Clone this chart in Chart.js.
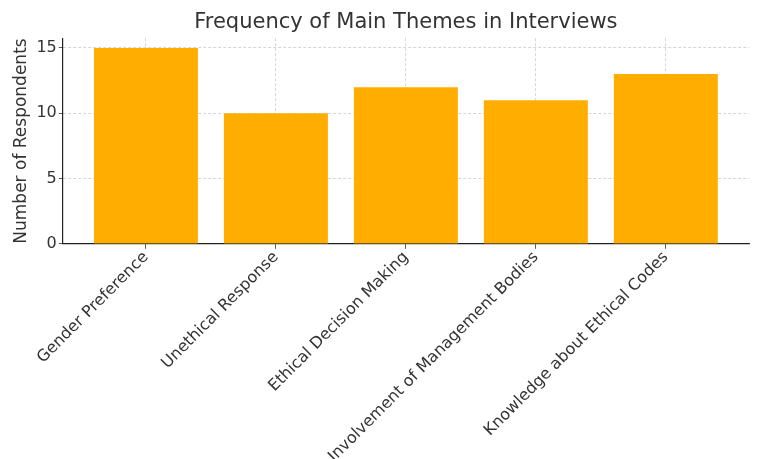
<!DOCTYPE html>
<html><head><meta charset="utf-8">
<script src="https://cdn.jsdelivr.net/npm/chart.js@4"></script>
<style>html,body{margin:0;padding:0;background:#fff}#w{width:757px;height:459px}</style>
</head><body><div id="w"><canvas id="c"></canvas></div>
<script>
const categories = ["Gender Preference","Unethical Response","Ethical Decision Making","Involvement of Management Bodies","Knowledge about Ethical Codes"];
const respondents = [15, 10, 12, 11, 13];
const yTicks = [0, 5, 10, 15];

const FONT = "'DejaVu Sans', sans-serif";
const TXT = '#333333';
Chart.defaults.font.family = FONT;
Chart.defaults.color = TXT;

new Chart(document.getElementById('c'), {
  type: 'bar',
  data: {
    datasets: [{
      data: respondents.map((v, i) => ({x: i, y: v})),
      backgroundColor: '#FFAE00',
      borderWidth: 0,
      categoryPercentage: 1.0,
      barPercentage: 0.8
    }]
  },
  options: {
    responsive: true,
    maintainAspectRatio: false,
    animation: false,
    layout: {padding: {left: 5, right: 8, top: 0, bottom: 0}},
    plugins: {
      legend: {display: false},
      tooltip: {enabled: false},
      title: {display: true, fullSize: false, text: 'Frequency of Main Themes in Interviews', color: TXT,
        font: {size: 21, weight: 'normal', family: FONT}, padding: {top: 10, bottom: 3}}
    },
    scales: {
      x: {
        type: 'linear', min: -0.64, max: 4.64, offset: false,
        afterBuildTicks: s => { s.ticks = categories.map((_, i) => ({value: i})); },
        afterFit: s => { s.height -= 6; },
        ticks: {autoSkip: false, minRotation: 45, maxRotation: 45, color: TXT,
          font: {size: 16, family: FONT}, padding: -1,
          callback: v => categories[v]},
        grid: {offset: false, color: '#cccccc', lineWidth: 0.8, tickColor: '#333', tickLength: 5},
        border: {display: true, color: '#222', width: 1.2, dash: [3, 2]}
      },
      y: {
        min: 0, max: 15.75,
        afterBuildTicks: s => { s.ticks = yTicks.map(v => ({value: v})); },
        ticks: {color: TXT, font: {size: 16, family: FONT}, padding: 2},
        title: {display: true, text: 'Number of Respondents', color: TXT, font: {size: 17, family: FONT}, padding: {top: 6, bottom: 3}},
        grid: {color: '#cccccc', lineWidth: 0.8, tickColor: '#333', tickLength: 4},
        border: {display: true, color: '#222', width: 1.2, dash: [3, 2]}
      }
    }
  }
});
</script></body></html>
